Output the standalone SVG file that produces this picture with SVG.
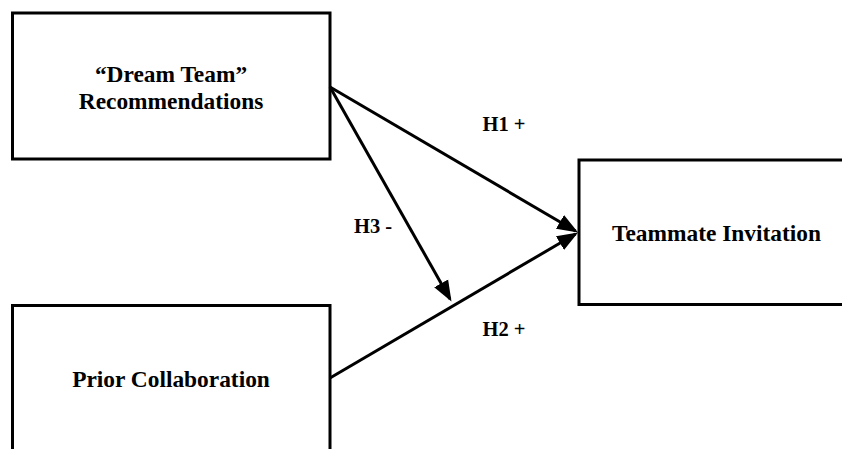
<svg xmlns="http://www.w3.org/2000/svg" width="842" height="449" viewBox="0 0 842 449">
<style>
.box{fill:#fff;stroke:#000;stroke-width:3}
.t{font-family:"Liberation Serif","Times New Roman",serif;font-weight:bold;font-size:23.4px;fill:#000;text-anchor:middle}
.lbl{font-family:"Liberation Serif","Times New Roman",serif;font-weight:bold;font-size:20.5px;fill:#000}
.c{stroke:#000;stroke-width:3;fill:none;marker-end:url(#ah)}
</style>
<defs>
<marker id="ah" markerUnits="userSpaceOnUse" markerWidth="22" markerHeight="18" refX="18" refY="8" orient="auto" viewBox="0 0 22 16">
<path d="M0,0 L21,8 L0,16 z" fill="#000"/>
</marker>
</defs>
<rect width="842" height="449" fill="#fff"/>
<g id="node-dream">
<rect class="box" x="12.5" y="13" width="317.5" height="146"/>
<text class="t" x="171" y="81.5">“Dream Team”</text>
<text class="t" x="171" y="109">Recommendations</text>
</g>
<g id="node-invitation">
<rect class="box" x="579" y="160" width="300" height="144.5"/>
<text class="t" x="716.5" y="241">Teammate Invitation</text>
</g>
<g id="node-prior">
<rect class="box" x="12.5" y="305.5" width="317.5" height="200"/>
<text class="t" x="171" y="386.5">Prior Collaboration</text>
</g>
<g id="connectors">
<line class="c" x1="330" y1="87" x2="575.5" y2="231"/>
<line class="c" x1="330" y1="378" x2="575.5" y2="234"/>
<line class="c" x1="330" y1="87" x2="450" y2="299"/>
</g>
<g id="labels">
<text class="lbl" x="482.5" y="130.5">H1 +</text>
<text class="lbl" x="354" y="233">H3 -</text>
<text class="lbl" x="482.5" y="335.5">H2 +</text>
</g>
</svg>
